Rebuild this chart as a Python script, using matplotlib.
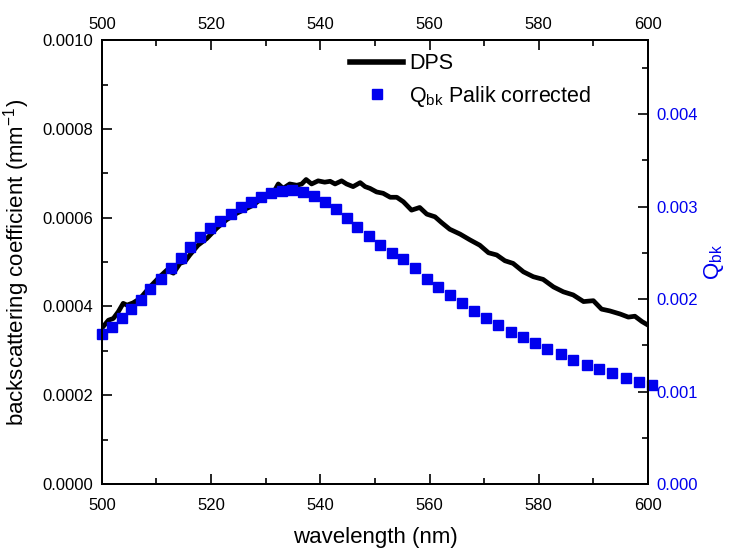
import matplotlib
matplotlib.use("Agg")
import matplotlib.pyplot as plt
from matplotlib.ticker import MultipleLocator, FormatStrFormatter
from matplotlib.lines import Line2D

plt.rcParams['font.family'] = ['Liberation Sans', 'DejaVu Sans']
plt.rcParams['mathtext.default'] = 'regular'

# DPS measured backscattering coefficient (mm^-1)
dps_wl = [500.2, 501.2, 502.1, 503.0, 503.9, 504.6, 505.7, 507.0, 508.8, 510.6,
          511.9, 513.1, 514.3, 515.2, 516.1, 517.6, 519.2, 521.0, 522.8, 524.7,
          525.9, 527.7, 529.5, 531.4, 532.3, 533.2, 534.4, 535.7, 536.6, 537.4,
          538.4, 539.6, 540.8, 541.8, 542.7, 543.9, 544.8, 546.0, 547.3, 548.2,
          549.1, 550.3, 551.5, 552.8, 554.0, 555.2, 556.7, 558.2, 559.5, 561.0,
          562.2, 563.7, 565.6, 567.4, 569.2, 570.8, 572.3, 573.8, 575.3, 577.2,
          579.0, 580.8, 582.7, 584.5, 586.3, 588.2, 590.0, 591.5, 593.0, 594.9,
          596.4, 597.6, 598.9, 600.0]
dps_bb = [0.000354, 0.000369, 0.000373, 0.000388, 0.000407, 0.000403, 0.000408, 0.000418, 0.000444, 0.000467,
          0.000482, 0.000475, 0.000497, 0.000501, 0.000516, 0.000538, 0.000553, 0.000576, 0.000595, 0.000610,
          0.000617, 0.000628, 0.000646, 0.000656, 0.000676, 0.000666, 0.000676, 0.000673, 0.000676, 0.000686,
          0.000676, 0.000683, 0.000680, 0.000682, 0.000676, 0.000683, 0.000676, 0.000670, 0.000679, 0.000670,
          0.000666, 0.000658, 0.000655, 0.000646, 0.000646, 0.000636, 0.000617, 0.000623, 0.000608, 0.000602,
          0.000589, 0.000574, 0.000563, 0.000550, 0.000538, 0.000521, 0.000516, 0.000503, 0.000497, 0.000478,
          0.000467, 0.000461, 0.000444, 0.000433, 0.000426, 0.000411, 0.000413, 0.000394, 0.000390, 0.000383,
          0.000376, 0.000378, 0.000366, 0.000358]

# Q_bk Palik corrected
q_wl = [500.1, 501.8, 503.6, 505.3, 507.1, 508.9, 510.8, 512.6, 514.4, 516.2,
        517.9, 519.8, 521.6, 523.6, 525.4, 527.3, 529.1, 531.0, 533.0, 534.9,
        536.9, 538.9, 540.9, 542.9, 544.8, 546.8, 549.0, 551.0, 553.2, 555.2,
        557.3, 559.5, 561.6, 563.7, 565.9, 568.1, 570.3, 572.6, 574.9, 577.1,
        579.4, 581.6, 584.0, 586.3, 588.8, 591.1, 593.5, 595.9, 598.4, 600.7]
q_bk = [0.001622, 0.001700, 0.001791, 0.001889, 0.001989, 0.002105, 0.002219, 0.002338, 0.002447, 0.002565,
        0.002667, 0.002764, 0.002846, 0.002919, 0.002991, 0.003052, 0.003106, 0.003143, 0.003171, 0.003178,
        0.003160, 0.003114, 0.003052, 0.002970, 0.002872, 0.002782, 0.002681, 0.002584, 0.002494, 0.002429,
        0.002335, 0.002216, 0.002126, 0.002040, 0.001954, 0.001874, 0.001798, 0.001722, 0.001646, 0.001586,
        0.001521, 0.001459, 0.001402, 0.001341, 0.001286, 0.001243, 0.001197, 0.001146, 0.001106, 0.001070]

fig = plt.figure(figsize=(7.33, 5.5), dpi=100)
ax = fig.add_axes([0.139, 0.12, 0.745, 0.807])
ax2 = ax.twinx()
ax3 = ax.twiny()

blue = '#0000ee'
ax.plot(dps_wl, dps_bb, color='black', lw=3.4, solid_joinstyle='round', zorder=3)
ax2.plot(q_wl, q_bk, ls='none', marker='s', ms=6.7, color=blue, mec=blue, clip_on=False, zorder=2)

ax.set_xlim(500, 600)
ax.set_ylim(0, 0.001)
ax2.set_ylim(0, 0.0048)
ax3.set_xlim(500, 600)

ax.xaxis.set_major_locator(MultipleLocator(20))
ax.xaxis.set_minor_locator(MultipleLocator(10))
ax3.xaxis.set_major_locator(MultipleLocator(20))
ax3.xaxis.set_minor_locator(MultipleLocator(10))
ax.yaxis.set_major_locator(MultipleLocator(0.0002))
ax.yaxis.set_minor_locator(MultipleLocator(0.0001))
ax.yaxis.set_major_formatter(FormatStrFormatter('%.4f'))
ax2.yaxis.set_major_locator(MultipleLocator(0.001))
ax2.yaxis.set_minor_locator(MultipleLocator(0.0005))
ax2.yaxis.set_major_formatter(FormatStrFormatter('%.3f'))

for a in (ax, ax2, ax3):
    a.tick_params(which='major', direction='in', length=7, width=1.2, labelsize=12)
    a.tick_params(which='minor', direction='in', length=4.5, width=1.2)
    for s in a.spines.values():
        s.set_linewidth(1.3)
ax.tick_params(axis='y', pad=6)
ax2.tick_params(axis='y', colors='black', labelcolor=blue, pad=6)
ax.tick_params(axis='x', pad=10)
ax3.tick_params(axis='x', pad=6)

ax.set_xlabel('wavelength (nm)', fontsize=16, labelpad=10)
ax.set_ylabel('backscattering coefficient (mm$^{-1}$)', fontsize=16, labelpad=8)
ax2.set_ylabel('Q$_{bk}$', fontsize=16, color=blue, labelpad=3)

handles = [Line2D([], [], color='black', lw=4),
           Line2D([], [], ls='none', marker='s', ms=6.7, color=blue)]
labels = ['DPS', 'Q$_{bk}$ Palik corrected']
ax.legend(handles, labels, loc='upper left', bbox_to_anchor=(0.43, 1.0), frameon=False,
          fontsize=15.5, handlelength=2.5, handletextpad=0.25, labelspacing=0.45, borderaxespad=0.2)

fig.savefig('out.png', dpi=100)
